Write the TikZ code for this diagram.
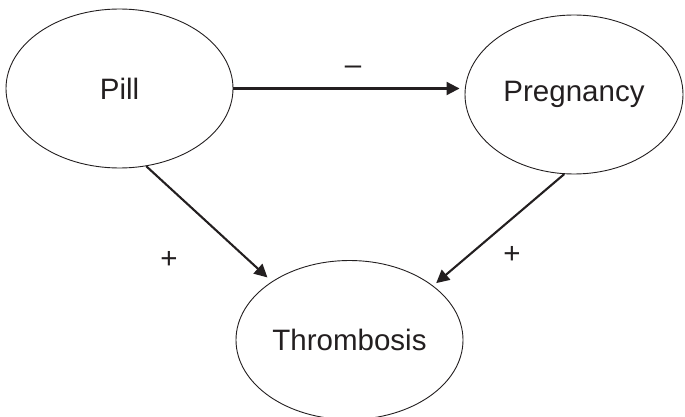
\documentclass[tikz,border=0pt]{standalone}
\usepackage{fontspec}
\setmainfont{Liberation Sans}
\usetikzlibrary{shapes.geometric,arrows.meta}
\definecolor{ink}{RGB}{35,31,32}
\begin{document}
\begin{tikzpicture}[x=1pt,y=-1pt,
  every node/.style={text=ink},
  var/.style={ellipse,draw=ink,line width=0.9pt,inner sep=0pt,
    minimum width=#1,minimum height=159pt,
    font=\fontsize{29.5}{35}\selectfont},
  var/.default=227pt,
  sign/.style={font=\fontsize{29.5}{35}\selectfont,inner sep=0pt},
  link/.style={draw=ink,line width=2.1pt,
    -{Triangle[length=13pt,width=13pt]}}]
\useasboundingbox (0,0) rectangle (685,417);
\node[var] (pill) at (119.5,88.5) {Pill};
\node[var=218pt] (preg) at (574,94.5) {Pregnancy};
\node[var] (throm) at (349.5,340) {Thrombosis};
\draw[link,shorten >=5pt] (pill.east) -- (pill.east -| preg.west);
\draw[link,shorten >=6pt] (pill.-71) -- (throm.143);
\draw[link,shorten >=4pt] (preg.-97) -- (throm.33);
\node[sign] (m) at (353,70) {–};
\node[sign] (p1) at (169,260) {+};
\node[sign] (p2) at (512,255) {+};
\end{tikzpicture}
\end{document}
